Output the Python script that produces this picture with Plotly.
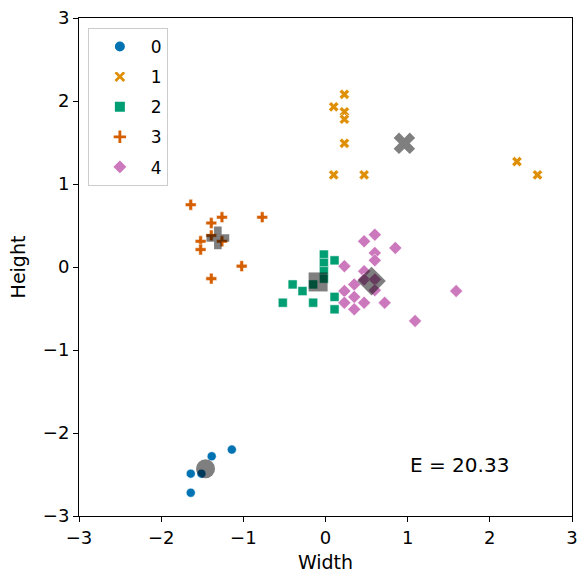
import plotly.graph_objects as go

# cluster data (Width, Height)
c0_x = [-1.385, -1.14, -1.64, -1.51, -1.64]
c0_y = [-2.28, -2.20, -2.49, -2.49, -2.72]

c1_x = [0.23, 0.10, 0.23, 0.23, 0.23, 0.10, 0.47, 2.33, 2.58]
c1_y = [2.08, 1.93, 1.87, 1.78, 1.49, 1.11, 1.11, 1.27, 1.11]

c2_x = [-0.02, 0.11, -0.02, -0.02, -0.02, -0.15, -0.40, -0.28, -0.52, -0.15, 0.11, 0.11]
c2_y = [0.15, 0.08, 0.05, -0.05, -0.14, -0.21, -0.21, -0.29, -0.43, -0.43, -0.36, -0.51]

c3_x = [-1.64, -1.26, -0.77, -1.39, -1.39, -1.26, -1.52, -1.52, -1.02, -1.39]
c3_y = [0.75, 0.60, 0.60, 0.53, 0.38, 0.31, 0.31, 0.21, 0.01, -0.14]

c4_x = [0.60, 0.47, 0.85, 0.60, 0.60, 0.23, 0.47, 0.47, 0.60, 0.60,
        0.35, 0.23, 0.35, 0.23, 0.47, 0.72, 0.35, 1.09, 1.59]
c4_y = [0.39, 0.31, 0.23, 0.17, 0.08, 0.01, -0.05, -0.15, -0.15, -0.28,
        -0.21, -0.29, -0.36, -0.43, -0.43, -0.43, -0.51, -0.65, -0.29]

centroid_x = [-1.46, 0.96, -0.09, -1.31, 0.56]
centroid_y = [-2.43, 1.49, -0.18, 0.35, -0.17]

labels = ["0", "1", "2", "3", "4"]
energy_text = "E = 20.33"

colors = ["#0173b2", "#de8f05", "#029e73", "#d55e00", "#cc78bc"]
symbols = ["circle", "x", "square", "cross", "diamond"]
sizes = [9, 9, 9, 9, 10]
csizes = [19, 19, 19, 19, 22]

xs = [c0_x, c1_x, c2_x, c3_x, c4_x]
ys = [c0_y, c1_y, c2_y, c3_y, c4_y]

fig = go.Figure()
for i in range(5):
    fig.add_trace(go.Scatter(
        x=xs[i], y=ys[i], mode="markers", name=labels[i], legendgroup=labels[i],
        marker=dict(color=colors[i], symbol=symbols[i], size=sizes[i],
                    line=dict(color="white", width=0.5)),
    ))
for i in range(5):
    fig.add_trace(go.Scatter(
        x=[centroid_x[i]], y=[centroid_y[i]], mode="markers", showlegend=False,
        marker=dict(color="rgba(0,0,0,0.5)", symbol=symbols[i], size=csizes[i],
                    line=dict(width=0)),
    ))

fig.add_annotation(x=1.0, y=-2.55, xref="x", yref="y", text=energy_text,
                   showarrow=False, xanchor="left", yanchor="bottom",
                   font=dict(size=20, color="black", family="DejaVu Sans"))

axis_common = dict(range=[-3, 3], tickvals=[-3, -2, -1, 0, 1, 2, 3],
                   ticktext=["\u22123", "\u22122", "\u22121", "0", "1", "2", "3"],
                   showgrid=False, zeroline=False, showline=True, linecolor="black",
                   linewidth=1, mirror=True, ticks="outside", ticklen=5,
                   tickcolor="black", tickfont=dict(size=18, color="black"),
                   automargin=False, ticklabeloverflow="allow")

fig.update_layout(
    width=578, height=574,
    margin=dict(l=79, r=6, t=18, b=58),
    paper_bgcolor="white", plot_bgcolor="white",
    font=dict(family="DejaVu Sans", color="black"),
    xaxis=dict(axis_common, title=dict(text="Width", font=dict(size=19), standoff=9)),
    yaxis=dict(axis_common, title=dict(text="Height", font=dict(size=19), standoff=12)),
    legend=dict(x=0.018, y=0.98, xanchor="left", yanchor="top",
                bordercolor="#cccccc", borderwidth=1, bgcolor="white",
                font=dict(size=17), itemsizing="constant", itemwidth=52,
                tracegroupgap=5),
)

fig.write_html("out.html", config={"displayModeBar": False},
               post_script="document.body.style.margin='0';document.body.style.overflow='hidden';")
